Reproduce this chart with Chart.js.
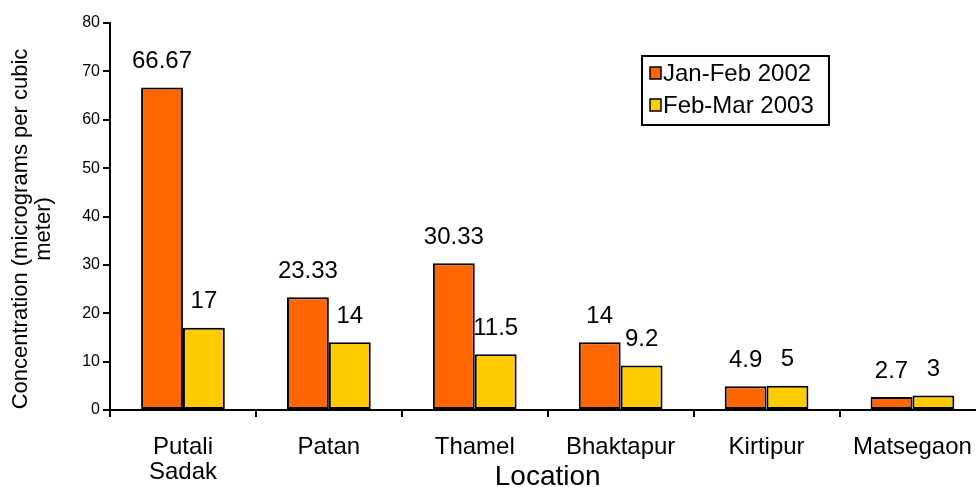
<!DOCTYPE html>
<html>
<head>
<meta charset="utf-8">
<script src="https://cdn.jsdelivr.net/npm/chart.js@4.4.1/dist/chart.umd.min.js"></script>
<style>
    body { margin: 0; overflow: hidden; background: #fff; }
    #wrap { width: 976px; height: 487px; overflow: hidden; }
</style>
</head>
<body>
<div id="wrap"><canvas id="chart" width="990" height="487"></canvas></div>
<script>
// Data
const categories = [['Putali', 'Sadak'], 'Patan', 'Thamel', 'Bhaktapur', 'Kirtipur', 'Matsegaon'];
const janFeb2002 = [66.67, 23.33, 30.33, 14, 4.9, 2.7];
const febMar2003 = [17, 14, 11.5, 9.2, 5, 3];
const seriesNames = ['Jan-Feb 2002', 'Feb-Mar 2003'];
const yTitleLines = ['Concentration (micrograms per cubic', 'meter)'];
const yTickMin = 0, yTickMax = 80, yTickStep = 10;

const FONT = 'Arial, "Liberation Sans", sans-serif';

// Value labels above each bar
const valueLabels = {
    id: 'valueLabels',
    afterDatasetsDraw(chart) {
        const ctx = chart.ctx;
        ctx.save();
        ctx.font = '24px ' + FONT;
        ctx.fillStyle = '#000';
        ctx.textAlign = 'center';
        ctx.textBaseline = 'middle';
        chart.data.datasets.forEach((ds, i) => {
            chart.getDatasetMeta(i).data.forEach((bar, j) => {
                ctx.fillText(String(ds.data[j]), bar.x, bar.y - 26);
            });
        });
        ctx.restore();
    }
};

// Rotated two-line y axis title
const yTitle = {
    id: 'yTitle',
    afterDraw(chart) {
        const ctx = chart.ctx;
        ctx.save();
        ctx.translate(32, 229);
        ctx.rotate(-Math.PI / 2);
        ctx.font = '22px ' + FONT;
        ctx.fillStyle = '#000';
        ctx.textAlign = 'center';
        ctx.textBaseline = 'middle';
        yTitleLines.forEach((line, i) => ctx.fillText(line, 0, -11 + i * 23));
        ctx.restore();
    }
};

// Boxed legend in the upper right
const boxLegend = {
    id: 'boxLegend',
    afterDraw(chart) {
        const ctx = chart.ctx;
        const x = 642, y = 56, w = 187, h = 69;
        ctx.save();
        ctx.fillStyle = '#fff';
        ctx.fillRect(x, y, w, h);
        ctx.strokeStyle = '#000';
        ctx.lineWidth = 2;
        ctx.strokeRect(x, y, w, h);
        ctx.font = '24px ' + FONT;
        ctx.textBaseline = 'middle';
        chart.data.datasets.forEach((ds, i) => {
            const cy = y + 17 + i * 32;
            ctx.fillStyle = ds.backgroundColor;
            ctx.fillRect(x + 8, cy - 6, 11, 12);
            ctx.lineWidth = 1.5;
            ctx.strokeRect(x + 8, cy - 6, 11, 12);
            ctx.fillStyle = '#000';
            ctx.fillText(ds.label, x + 21, cy + 1);
        });
        ctx.restore();
    }
};

new Chart(document.getElementById('chart'), {
    type: 'bar',
    data: {
        labels: categories,
        datasets: [{
            label: seriesNames[0],
            data: janFeb2002,
            backgroundColor: '#FF6600',
            borderColor: '#000',
            borderWidth: 2,
            borderSkipped: false
        }, {
            label: seriesNames[1],
            data: febMar2003,
            backgroundColor: '#FFCC00',
            borderColor: '#000',
            borderWidth: 2,
            borderSkipped: false
        }]
    },
    options: {
        responsive: false,
        animation: false,
        layout: { padding: { top: 23, right: 2, left: 0, bottom: 0 } },
        categoryPercentage: 0.574,
        barPercentage: 1,
        plugins: {
            legend: { display: false },
            tooltip: { enabled: false }
        },
        scales: {
            x: {
                afterFit(scale) { scale.height = 77; },
                grid: { display: true, drawOnChartArea: false, offset: true, tickLength: 7, color: '#000', lineWidth: 2 },
                border: { display: true, color: '#000', width: 2 },
                ticks: { color: '#000', font: { family: FONT, size: 24, lineHeight: 1.05 }, padding: 18, maxRotation: 0 },
                title: { display: true, text: 'Location', color: '#000', font: { family: FONT, size: 28, lineHeight: 1 }, padding: { top: 0, bottom: -4 } }
            },
            y: {
                min: yTickMin,
                max: yTickMax,
                afterFit(scale) { scale.width = 110; },
                grid: { display: true, drawOnChartArea: false, tickLength: 7, color: '#000', lineWidth: 2 },
                border: { display: true, color: '#000', width: 2 },
                ticks: { stepSize: yTickStep, color: '#000', font: { family: FONT, size: 16 }, padding: 3 }
            }
        }
    },
    plugins: [valueLabels, yTitle, boxLegend]
});
</script>
</body>
</html>
